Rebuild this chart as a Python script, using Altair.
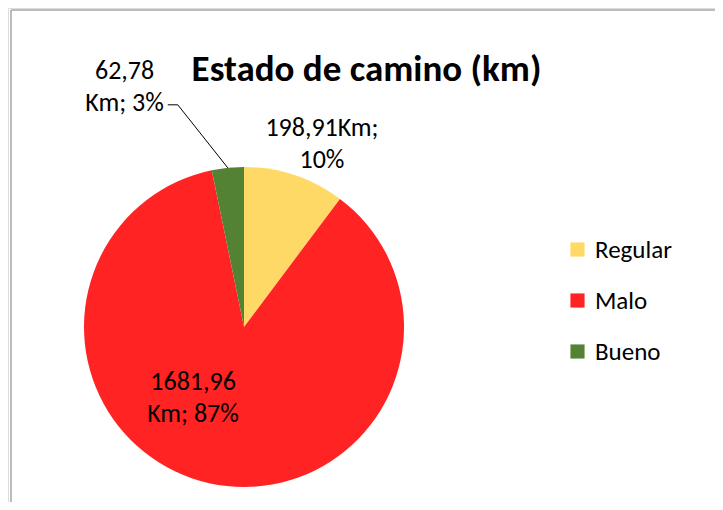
import altair as alt
import pandas as pd

categorias = ["Regular", "Malo", "Bueno"]
km = [198.91, 1681.96, 62.78]
etiquetas = ["198,91Km;\n10%", "1681,96\nKm; 87%", "62,78\nKm; 3%"]
orden = [1, 2, 3]
colores = ["#FFD966", "#FF2323", "#548235"]

df = pd.DataFrame({"estado": categorias, "km": km, "etiqueta": etiquetas, "orden": orden})

FONT = "Carlito, Lato, sans-serif"
CX, CY, R = 236, 319, 160
W, H = 707, 494


def stacked(ch):
    return (
        ch.transform_joinaggregate(total="sum(km)")
        .transform_window(cum="sum(km)", sort=[alt.SortField("orden")], frame=[None, 0])
        .transform_calculate(
            mid="datum.cum - datum.km / 2",
            ang="(datum.cum - datum.km / 2) / datum.total * 2 * PI",
        )
    )


pie = alt.Chart(df).mark_arc(radius=R, strokeWidth=0).encode(
    theta=alt.Theta("km:Q", stack=True),
    order=alt.Order("orden:Q"),
    x=alt.value(CX),
    y=alt.value(CY),
    color=alt.Color(
        "estado:N",
        sort=categorias,
        scale=alt.Scale(domain=categorias, range=colores),
        legend=alt.Legend(
            title=None, orient="none", legendX=557, legendY=229,
            symbolType="square", symbolSize=200, symbolStrokeWidth=0,
            labelFontSize=25, labelFont=FONT, labelColor="black",
            rowPadding=25, labelOffset=5, padding=0,
        ),
    ),
)


def label_layer(cat, radius, dx, dy=-16):
    return (
        stacked(alt.Chart(df))
        .transform_filter(alt.datum.estado == cat)
        .mark_text(radius=radius, dx=dx, dy=dy, fontSize=26, font=FONT, color="black",
                   lineBreak="\n", lineHeight=32, align="center", baseline="middle")
        .encode(
            theta=alt.Theta("mid:Q", stack=None),
            x=alt.value(CX),
            y=alt.value(CY),
            text="etiqueta:N",
        )
    )


lab_reg = label_layer("Regular", 193, 17)
lab_malo = label_layer("Malo", 73, -35)
lab_bueno = label_layer("Bueno", 241, -95)

leader_base = (
    stacked(alt.Chart(df))
    .transform_filter(alt.datum.estado == "Bueno")
    .transform_calculate(
        px=f"{CX} + {R} * sin(datum.ang)",
        py=f"{CY} - {R} * cos(datum.ang)",
    )
    .transform_calculate(ex="datum.px - 50", ey="datum.py - 63", tx="datum.px - 60")
)
leader1 = leader_base.mark_rule(color="black", strokeWidth=1).encode(
    x=alt.X("px:Q", scale=None), y=alt.Y("py:Q", scale=None),
    x2="ex:Q", y2="ey:Q",
)
leader2 = leader_base.mark_rule(color="black", strokeWidth=1).encode(
    x=alt.X("ex:Q", scale=None), y=alt.Y("ey:Q", scale=None),
    x2="tx:Q", y2="ey:Q",
)

frame = pd.DataFrame({"k": [0]})
border_left = alt.Chart(frame).mark_rule(color="#A6A6A6", strokeWidth=1.5).encode(
    x=alt.value(3), y=alt.value(2), y2=alt.value(H)
)
border_top = alt.Chart(frame).mark_rule(color="#A6A6A6", strokeWidth=1.5).encode(
    x=alt.value(3), x2=alt.value(W), y=alt.value(2)
)

chart = (
    alt.layer(border_left, border_top, pie, leader1, leader2, lab_reg, lab_malo, lab_bueno)
    .properties(
        width=W, height=H,
        padding=0,
        autosize=alt.AutoSizeParams(type="none"),
        title=alt.TitleParams(
            text="Estado de camino (km)", font=FONT, fontSize=37, fontWeight="bold",
            color="black", anchor="middle", offset=-110, dx=5, baseline="alphabetic",
        ),
    )
    .configure_view(stroke=None)
    .configure(background="white")
)

chart.save("out.html", embed_options={"renderer": "svg", "actions": False})
